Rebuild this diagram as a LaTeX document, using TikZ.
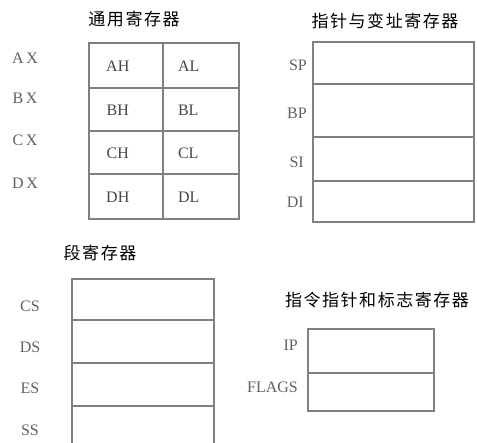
\documentclass[tikz,border=0pt]{standalone}
\usepackage{fontspec}
\setmainfont{Liberation Serif}
\newfontfamily\cjk[LetterSpace=9]{Noto Sans CJK SC}
\begin{document}
\begin{tikzpicture}[x=1pt,y=-1pt,
  reg/.style={draw=black!50,line width=1.6pt},
  lbl/.style={text=black!62,font=\fontsize{16}{16}\selectfont,inner sep=0pt},
  cell/.style={lbl,text=black!72},
  ttl/.style={font=\cjk\fontsize{17}{17}\selectfont,inner sep=0pt}]
\clip (0,0) rectangle (477,443);
\fill[white] (0,0) rectangle (477,443);
% general registers
\node[ttl] (t1) at (134,19) {通用寄存器};
\foreach \ya/\yb/\r [count=\i] in {42/87/A,87/130/B,130/173/C,173/218/D}{
  \node[reg,minimum width=74pt,minimum height={\yb-\ya},inner sep=0pt,anchor=north west] (h\i) at (88,\ya) {};
  \node[reg,minimum width=76pt,minimum height={\yb-\ya},inner sep=0pt,anchor=north west] (l\i) at (162,\ya) {};
  \node[cell] at ([xshift=-8pt,yshift=-1pt]h\i.center) {\r H};
  \node[cell,anchor=west] at ([xshift=-23pt,yshift=-1pt]l\i.center) {\r L};
}
\node[lbl] (ax) at (25,58) {A\,X};
\node[lbl] (bx) at (25,98) {B\,X};
\node[lbl] (cx) at (25,140) {C\,X};
\node[lbl] (dx) at (25,183) {D\,X};
% pointer and index
\node[ttl] (t2) at (385,21) {指针与变址寄存器};
\foreach \ya/\yb/\n in {41/83/SP,83/136/BP,136/180/SI,180/221/DI}{
  \node[reg,minimum width=161pt,minimum height={\yb-\ya},inner sep=0pt,anchor=north west] (p\n) at (312,\ya) {};
}
\node[lbl,anchor=east] (sp) at (307,65) {SP};
\node[lbl,anchor=east] (bp) at (307,113) {BP};
\node[lbl,anchor=east] (si) at (304,162) {SI};
\node[lbl,anchor=east] (di) at (304,202) {DI};
% segment
\node[ttl] (t3) at (100,253) {段寄存器};
\foreach \ya/\yb/\n in {278/319/CS,319/362/DS,362/405/ES,405/450/SS}{
  \node[reg,minimum width=142pt,minimum height={\yb-\ya},inner sep=0pt,anchor=north west] (s\n) at (71,\ya) {};
}
\node[lbl] (cs) at (30,306) {CS};
\node[lbl] (ds) at (30,347) {DS};
\node[lbl] (es) at (30,388) {ES};
\node[lbl] (ss) at (30,430) {SS};
% IP and flags
\node[ttl] (t4) at (377,300) {指令指针和标志寄存器};
\node[reg,minimum width=126pt,minimum height=44pt,inner sep=0pt,anchor=north west] (ip) at (307,328) {};
\node[reg,minimum width=126pt,minimum height=38pt,inner sep=0pt,anchor=north west] (fl) at (307,372) {};
\node[lbl,anchor=east] (ipl) at (298,345) {IP};
\node[lbl,anchor=east] (fll) at (298,387) {FLAGS};
\end{tikzpicture}
\end{document}
